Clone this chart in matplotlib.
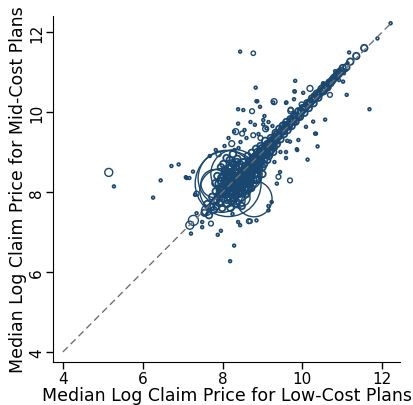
import matplotlib
matplotlib.use("Agg")
import matplotlib.pyplot as plt

# Hospital-level median log claim prices, low-cost vs mid-cost plans
# Large markets (drawn as large hollow circles, weight = marker area)
big_x = [8.14, 8.09, 8.31, 7.98, 8.79, 8.59, 7.81, 8.39, 8.49, 5.15, 7.18, 7.27, 7.60]
big_y = [8.21, 8.34, 8.46, 8.04, 7.83, 8.44, 8.21, 7.78, 7.85, 8.49, 7.17, 7.29, 7.54]
big_w = [2250, 1630, 1200, 1000, 670, 530, 410, 100, 130, 33, 33, 52, 52]

# Mid-sized markets
mid_x = [7.35, 7.71, 8.66, 8.69, 9.40, 9.69, 8.49, 8.77, 8.23, 8.77, 10.19, 10.69,
         9.71, 9.98, 9.29, 8.74, 8.33, 9.08, 9.71, 8.19, 8.64, 7.90, 8.95, 9.55]
mid_y = [7.96, 7.21, 7.27, 7.27, 8.38, 8.29, 9.46, 9.42, 9.21, 11.47, 10.59, 10.43,
         10.03, 10.19, 10.26, 10.02, 9.51, 9.58, 10.06, 7.83, 8.09, 8.95, 9.35, 9.70]
mid_w = [12, 12, 12, 10, 12, 12, 12, 12, 18, 10, 18, 12,
         18, 12, 18, 12, 18, 18, 12, 30, 18, 14, 12, 12]

# Small markets: scattered points
small_x = [5.28, 6.26, 6.45, 6.72, 6.90, 7.08, 7.17, 7.26, 7.35, 7.21, 7.49, 7.49,
           8.19, 8.29, 7.88, 7.96, 8.39, 8.44, 8.25, 8.85, 9.15, 9.23, 9.15, 9.44,
           9.36, 9.59, 10.13, 9.87, 10.32, 8.29, 8.39, 9.02, 9.10, 7.83, 7.68, 7.10,
           12.21, 11.88, 11.17, 11.13, 10.96, 11.09, 11.04, 10.82, 10.92, 11.02, 10.65,
           10.52, 9.82, 9.80, 9.79, 9.27, 9.59, 10.27, 11.11, 11.68, 10.57, 10.34,
           10.09, 8.44, 8.83, 8.85, 8.94, 9.60, 9.81, 10.02, 10.51, 8.39, 8.52, 8.87,
           9.05, 9.02, 8.81, 9.69, 9.90, 10.27, 10.38, 9.86, 9.59, 7.31, 9.30, 9.45,
           8.15, 8.05, 8.45, 8.55, 8.60, 8.70, 8.90, 9.15, 9.25, 8.30, 8.40, 9.62]
small_y = [8.14, 7.86, 8.29, 8.65, 8.69, 8.37, 8.35, 8.51, 7.47, 6.96, 7.25, 7.12,
           6.27, 6.66, 6.93, 7.03, 7.25, 7.17, 7.45, 7.29, 7.65, 7.75, 7.54, 8.50,
           8.21, 8.85, 8.81, 9.05, 9.46, 9.51, 9.71, 9.69, 9.59, 9.05, 8.90, 8.35,
           12.22, 11.84, 11.49, 11.22, 11.03, 11.05, 10.97, 11.02, 10.80, 10.76, 10.76,
           10.72, 10.78, 10.52, 10.32, 10.24, 10.23, 10.43, 10.43, 10.07, 9.81, 9.46,
           9.63, 11.51, 10.61, 10.27, 10.13, 10.24, 10.51, 10.48, 10.69, 10.07, 10.05, 10.27,
           9.90, 9.80, 9.68, 9.26, 9.30, 9.76, 9.14, 9.07, 9.00, 7.93, 8.75, 9.00,
           9.35, 9.15, 9.25, 9.55, 9.35, 9.75, 9.45, 9.75, 9.65, 9.05, 9.10, 9.28]

# Core of the distribution along the diagonal
band_x = [7.55, 7.62, 7.66, 7.71, 7.74, 7.78, 7.80, 7.83, 7.85, 7.88, 7.90, 7.92,
          7.95, 7.97, 7.99, 8.01, 8.03, 8.05, 8.07, 8.09, 8.11, 8.13, 8.15, 8.16,
          8.18, 8.20, 8.22, 8.24, 8.25, 8.27, 8.29, 8.31, 8.33, 8.35, 8.37, 8.39,
          8.41, 8.43, 8.45, 8.47, 8.49, 8.51, 8.53, 8.55, 8.57, 8.59, 8.61, 8.63,
          8.65, 8.67, 8.69, 8.71, 8.73, 8.75, 8.77, 8.79, 8.81, 8.84, 8.86, 8.88,
          8.90, 8.93, 8.95, 8.97, 9.00, 9.02, 9.05, 9.07, 9.10, 9.12, 9.15, 9.18,
          9.21, 9.24, 9.27, 9.30, 9.33, 9.36, 9.39, 9.42, 9.45, 9.48, 9.51, 9.54,
          9.57, 9.60, 9.63, 9.66, 9.70, 9.73, 9.76, 9.80, 9.83, 9.86, 9.90, 9.94,
          9.97, 10.01, 10.05, 10.08, 10.12, 10.16, 10.20, 10.24, 10.28, 10.32, 10.36,
          10.40, 10.44, 10.48, 10.53, 10.58, 10.63, 10.68, 10.74, 10.80, 10.86, 10.93,
          11.01, 11.10, 11.20, 11.35, 11.55,
          7.93, 8.00, 8.04, 8.08, 8.12, 8.14, 8.17, 8.19, 8.21, 8.23, 8.26, 8.28,
          8.30, 8.32, 8.34, 8.36, 8.38, 8.40, 8.42, 8.44, 8.46, 8.48, 8.50, 8.52,
          8.54, 8.56, 8.58, 8.60, 8.62, 8.64, 8.66, 8.68, 8.70, 8.72, 8.74, 8.76,
          8.78, 8.80, 8.83, 8.85, 8.87, 8.89, 8.92, 8.94, 8.96, 8.99, 9.01, 9.04,
          9.06, 9.09, 9.13, 9.16, 9.19, 9.22, 9.26, 9.29, 9.32, 9.35, 7.96, 8.02,
          8.06, 7.87, 7.82, 8.10, 8.18, 8.26, 8.20, 8.35, 8.48, 8.60, 8.72, 8.85, 9.00,
          8.82, 8.88, 8.94, 9.00, 9.06, 9.12, 9.18, 9.24, 9.30, 9.36, 9.42, 9.48,
          9.54, 9.60, 9.66, 9.72, 9.78, 9.84, 9.90, 9.96, 10.02, 10.08, 10.14, 10.20,
          10.26, 10.32, 10.38, 10.44, 10.50, 10.56, 10.62, 10.70, 10.77, 10.84, 10.91,
          10.98,
          7.85, 7.92, 7.98, 8.03, 8.06, 8.10, 8.13, 8.17, 8.20, 8.24, 8.27, 8.31,
          8.34, 8.37, 8.41, 8.44, 8.47, 8.51, 8.54, 8.57, 8.61, 8.64, 8.67, 8.71,
          8.74, 8.78, 8.81, 8.08, 8.15, 8.22, 8.28, 8.36, 8.02, 7.95, 8.40, 8.50,
          8.58, 8.68, 8.30, 8.12]
band_y = [7.48, 7.70, 7.42, 7.63, 7.88, 7.55, 7.76, 8.02, 7.64, 7.90, 8.21, 7.72,
          7.98, 8.36, 7.60, 8.12, 7.84, 8.48, 7.95, 8.27, 7.70, 8.05, 8.60, 7.88,
          8.18, 8.40, 7.99, 8.72, 7.78, 8.30, 8.08, 8.52, 7.92, 8.22, 8.83, 8.40,
          8.01, 8.62, 8.30, 7.86, 8.48, 8.15, 8.74, 8.40, 8.05, 8.58, 8.28, 8.90,
          8.50, 8.18, 8.70, 8.40, 8.98, 8.60, 8.30, 8.82, 8.55, 9.08, 8.72, 8.45,
          8.92, 8.68, 9.15, 8.85, 8.62, 9.05, 8.82, 9.28, 9.00, 8.80, 9.18, 8.98,
          9.35, 9.12, 9.00, 9.30, 9.48, 9.20, 9.40, 9.58, 9.32, 9.50, 9.66, 9.45,
          9.60, 9.75, 9.55, 9.70, 9.82, 9.65, 9.80, 9.92, 9.76, 9.90, 10.02, 9.88,
          10.00, 10.10, 9.98, 10.12, 10.22, 10.10, 10.25, 10.34, 10.22, 10.38, 10.46,
          10.36, 10.50, 10.58, 10.52, 10.66, 10.62, 10.74, 10.78, 10.86, 10.92, 11.00,
          11.10, 11.12, 11.26, 11.40, 11.60,
          8.05, 7.95, 8.20, 8.05, 8.38, 8.15, 7.98, 8.28, 8.10, 8.50, 8.20, 7.98,
          8.40, 8.15, 8.62, 8.30, 8.08, 8.50, 8.20, 8.42, 8.68, 8.35, 8.25, 8.55,
          8.33, 8.65, 8.45, 8.20, 8.52, 8.38, 8.78, 8.55, 8.30, 8.65, 8.48, 8.85,
          8.65, 8.45, 8.78, 8.60, 9.00, 8.80, 8.58, 8.98, 8.75, 9.10, 8.92, 8.70,
          9.12, 8.92, 9.08, 8.90, 9.25, 9.05, 9.22, 9.12, 9.38, 9.28, 8.62, 8.70,
          8.55, 8.40, 8.22, 8.85, 8.80, 8.95, 7.60, 7.70, 7.65, 7.95, 8.10, 8.30, 8.45,
          8.90, 8.86, 9.02, 8.98, 9.10, 9.20, 9.16, 9.30, 9.28, 9.44, 9.40, 9.55,
          9.52, 9.66, 9.64, 9.78, 9.76, 9.90, 9.88, 10.02, 10.06, 10.12, 10.18, 10.24,
          10.30, 10.35, 10.42, 10.47, 10.54, 10.58, 10.66, 10.72, 10.82, 10.88, 10.95,
          11.03,
          7.80, 7.86, 8.10, 8.00, 8.30, 8.12, 8.22, 8.35, 8.02, 8.15, 8.42, 8.28,
          8.05, 8.18, 8.36, 8.10, 8.52, 8.40, 8.20, 8.50, 8.62, 8.47, 8.66, 8.52,
          8.72, 8.75, 8.66, 8.45, 8.50, 8.62, 8.70, 8.75, 8.40, 8.28, 7.95, 7.98,
          8.12, 8.22, 7.85, 7.80]

navy = "#1a476f"

fig = plt.figure(figsize=(4.13, 4.06), dpi=100)
ax = fig.add_axes([0.128, 0.106, 0.841, 0.852])

ax.scatter(band_x, band_y, s=22, facecolors="none", edgecolors=navy, linewidths=1.3)
ax.scatter(small_x, small_y, s=4, facecolors="none", edgecolors=navy, linewidths=1.2)
ax.scatter(mid_x, mid_y, s=mid_w, facecolors="none", edgecolors=navy, linewidths=1.0)
ax.scatter(big_x, big_y, s=big_w, facecolors="none", edgecolors=navy, linewidths=1.0)

# 45-degree reference line
ax.plot([4, 12.2], [4, 12.2], color="#727272", linestyle=(0, (5, 3)), linewidth=1.0, zorder=3)

ax.set_xlim(3.75, 12.45)
ax.set_ylim(3.75, 12.4)
ax.set_xticks([4, 6, 8, 10, 12])
ax.set_yticks([4, 6, 8, 10, 12])
ax.tick_params(labelsize=11, length=5, width=1, pad=1.5)
for lbl in ax.get_yticklabels():
    lbl.set_rotation(90)
    lbl.set_va("center")

ax.spines["top"].set_visible(False)
ax.spines["right"].set_visible(False)
ax.set_xlabel("Median Log Claim Price for Low-Cost Plans", fontsize=12.5, labelpad=0)
ax.set_ylabel("Median Log Claim Price for Mid-Cost Plans", fontsize=12.5, labelpad=1)

fig.savefig("out.png", dpi=100)
